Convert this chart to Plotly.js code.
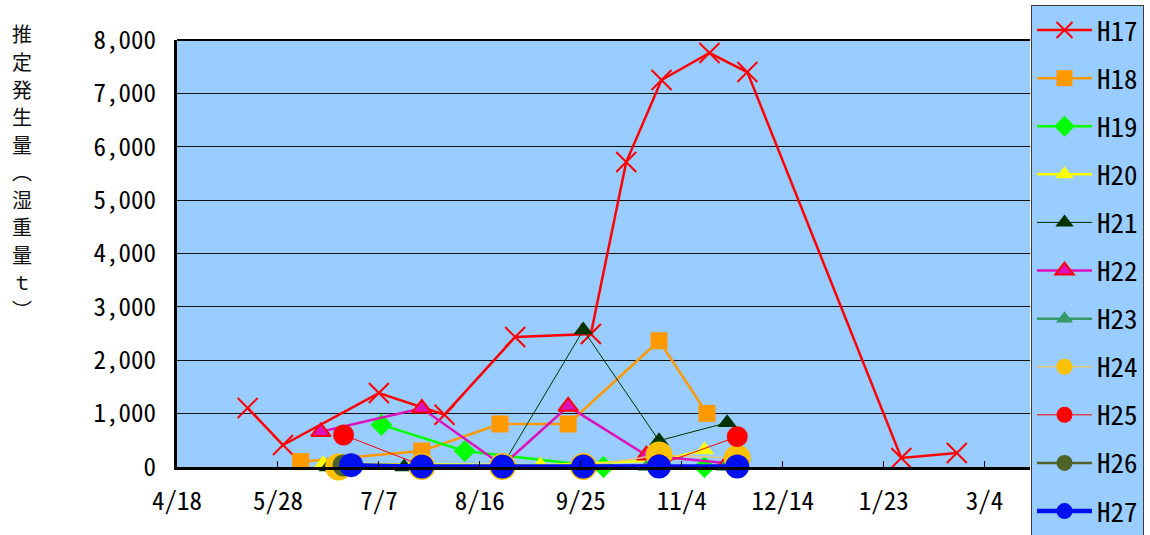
<!DOCTYPE html>
<html><head><meta charset="utf-8">
<script src="https://cdn.plot.ly/plotly-3.0.1.min.js"></script>
<style>html,body{margin:0;padding:0;background:#fff}#chart{width:1150px;height:535px}</style>
</head><body><div id="chart"></div>
<script>
// ---- data ----
const seriesNames = ['H17','H18','H19','H20','H21','H22','H23','H24','H25','H26','H27'];

const h17Dates = ['2005-05-16','2005-05-30','2005-07-07','2005-08-02','2005-08-30','2005-09-29','2005-10-13','2005-10-27','2005-11-15','2005-11-30','2006-01-30','2006-02-21'];
const h17Values = [1105, 412, 1385, 980, 2435, 2492, 5714, 7250, 7756, 7400, 168, 262];

const h18Dates = ['2005-06-06','2005-07-24','2005-08-24','2005-09-20','2005-10-26','2005-11-14'];
const h18Values = [100, 300, 806, 806, 2365, 1005];

const h19Dates = ['2005-07-08','2005-08-10','2005-10-04','2005-11-13'];
const h19Values = [790, 300, 0, 0];

const h20Dates = ['2005-06-15','2005-09-09','2005-10-26','2005-11-13'];
const h20Values = [60, 35, 120, 318];

const h21Dates = ['2005-06-17','2005-07-17','2005-08-25','2005-09-26','2005-10-26','2005-11-22'];
const h21Values = [0, 0, 30, 2566, 493, 830];

const h22Dates = ['2005-06-14','2005-07-24','2005-08-25','2005-09-20','2005-10-21','2005-11-22'];
const h22Values = [660, 1100, 30, 1135, 220, 70];

const h23Dates = ['2005-10-21','2005-11-21'];
const h23Values = [0, 0];

const h24Dates = ['2005-06-21','2005-07-24','2005-08-25','2005-09-26','2005-10-26','2005-11-26'];
const h24Values = [0, 10, 10, 10, 225, 165];

const h25Dates = ['2005-06-23','2005-07-24','2005-09-26','2005-10-26','2005-11-26'];
const h25Values = [600, 30, 30, 40, 568];

const h26Dates = ['2005-06-23','2005-07-24','2005-08-25','2005-09-26','2005-10-26','2005-11-26'];
const h26Values = [30, 0, 0, 0, 0, 0];

const h27Dates = ['2005-06-26','2005-07-24','2005-08-25','2005-09-26','2005-10-26','2005-11-26'];
const h27Values = [35, 10, 10, 10, 10, 10];

const xTickDates = ['2005-04-18','2005-05-28','2005-07-07','2005-08-16','2005-09-25','2005-11-04','2005-12-14','2006-01-23','2006-03-04'];
const xTickLabels = ['4/18','5/28','7/7','8/16','9/25','11/4','12/14','1/23','3/4'];
const yTickValues = [0,1000,2000,3000,4000,5000,6000,7000,8000];
const yTickLabels = ['0','1,000','2,000','3,000','4,000','5,000','6,000','7,000','8,000'];
const yTitleChars = ['推','定','発','生','量','︵','湿','重','量','ｔ','︶'];

// ---- styles ----
const allDates = [h17Dates,h18Dates,h19Dates,h20Dates,h21Dates,h22Dates,h23Dates,h24Dates,h25Dates,h26Dates,h27Dates];
const allValues = [h17Values,h18Values,h19Values,h20Values,h21Values,h22Values,h23Values,h24Values,h25Values,h26Values,h27Values];
const styles = [
  {lc:'#FF0000', lw:2.5, sym:'x-thin-open', mc:'#FF0000', ms:20, mlc:'#FF0000', mlw:2},
  {lc:'#FF9900', lw:2.5, sym:'square', mc:'#FF9900', ms:17, mlc:'#FF9900', mlw:0},
  {lc:'#00FF00', lw:2.5, sym:'diamond', mc:'#00FF00', ms:17, mlc:'#00FF00', mlw:0},
  {lc:'#FFFF00', lw:2.5, sym:'triangle-up', mc:'#FFFF00', ms:17, mlc:'#FFFF00', mlw:0},
  {lc:'#003300', lw:1, sym:'triangle-up', mc:'#003300', ms:17, mlc:'#003300', mlw:0},
  {lc:'#DD11BB', lw:2.5, sym:'triangle-up', mc:'#DD11BB', ms:17, mlc:'#FF0000', mlw:2},
  {lc:'#339966', lw:2.5, sym:'triangle-up', mc:'#339966', ms:15, mlc:'#339966', mlw:0},
  {lc:'#E6C878', lw:1.5, sym:'circle', mc:'#FFC000', ms:27, mlc:'#FFC000', mlw:0},
  {lc:'#FF0000', lw:1, sym:'circle', mc:'#FF0000', ms:21, mlc:'#FF0000', mlw:0},
  {lc:'#4F6228', lw:2.5, sym:'circle', mc:'#4F6228', ms:22, mlc:'#4F6228', mlw:0},
  {lc:'#0010EE', lw:4.5, sym:'circle', mc:'#0010EE', ms:24, mlc:'#0010EE', mlw:0}
];

const NUM_FONT = 'Noto Sans Mono CJK JP, Liberation Sans Narrow, DejaVu Sans, sans-serif';

const traces = seriesNames.map((name, i) => ({
  type: 'scatter', mode: 'lines+markers', name: name,
  x: allDates[i], y: allValues[i],
  legendgroup: name,
  cliponaxis: false,
  line: {color: styles[i].lc, width: styles[i].lw},
  marker: {symbol: styles[i].sym, color: styles[i].mc, size: styles[i].ms,
           line: {color: styles[i].mlc, width: styles[i].mlw}}
}));

// vertical axis title: one annotation per character, stacked
const PLOT_TOP = 40, PLOT_H = 427, TITLE_TOP_CENTER = 34, TITLE_STEP = 27.5;
const titleAnnotations = yTitleChars.map((ch, i) => ({
  xref: 'paper', yref: 'paper', x: -0.182,
  y: (PLOT_TOP + PLOT_H - (TITLE_TOP_CENTER + i * TITLE_STEP)) / PLOT_H,
  xanchor: 'center', yanchor: 'middle', showarrow: false, borderpad: 0,
  text: ch,
  font: {family: 'Noto Sans CJK JP, sans-serif', size: 20, color: '#111'}
}));

const layout = {
  width: 1150, height: 535,
  margin: {l: 177, r: 120, t: 40, b: 68, autoexpand: false},
  paper_bgcolor: '#FFFFFF',
  plot_bgcolor: '#99CCFF',
  showlegend: true,
  hovermode: false,
  xaxis: {
    type: 'date',
    range: ['2005-04-18', '2006-03-22'],
    tickmode: 'array', tickvals: xTickDates, ticktext: xTickLabels,
    ticks: 'inside', ticklen: 6, tickwidth: 1, tickcolor: '#000',
    showgrid: false, zeroline: false,
    showline: true, linecolor: '#000', linewidth: 3,
    ticklabelstandoff: 10,
    tickfont: {family: NUM_FONT, size: 25, color: '#000'}
  },
  yaxis: {
    range: [0, 8000],
    tickmode: 'array', tickvals: yTickValues, ticktext: yTickLabels,
    ticks: '', showgrid: true, gridcolor: '#111', gridwidth: 1,
    zeroline: false,
    showline: true, linecolor: '#000', linewidth: 3,
    ticklabelstandoff: 13,
    tickfont: {family: NUM_FONT, size: 25, color: '#000'}
  },
  legend: {
    x: 1.0012, xanchor: 'left', xref: 'paper',
    y: 1.082, yanchor: 'top', yref: 'paper',
    maxheight: 700,
    bgcolor: '#99CCFF', bordercolor: '#3A3A3A', borderwidth: 1,
    itemwidth: 55, tracegroupgap: 10,
    font: {family: NUM_FONT, size: 27, color: '#000'}
  },
  shapes: [
    {type: 'line', xref: 'paper', yref: 'paper', x0: 0, x1: 1, y0: 1, y1: 1,
     line: {color: '#000', width: 2}}
  ],
  annotations: titleAnnotations
};

Plotly.newPlot('chart', traces, layout, {displayModeBar: false, staticPlot: true});
</script>
</body></html>
